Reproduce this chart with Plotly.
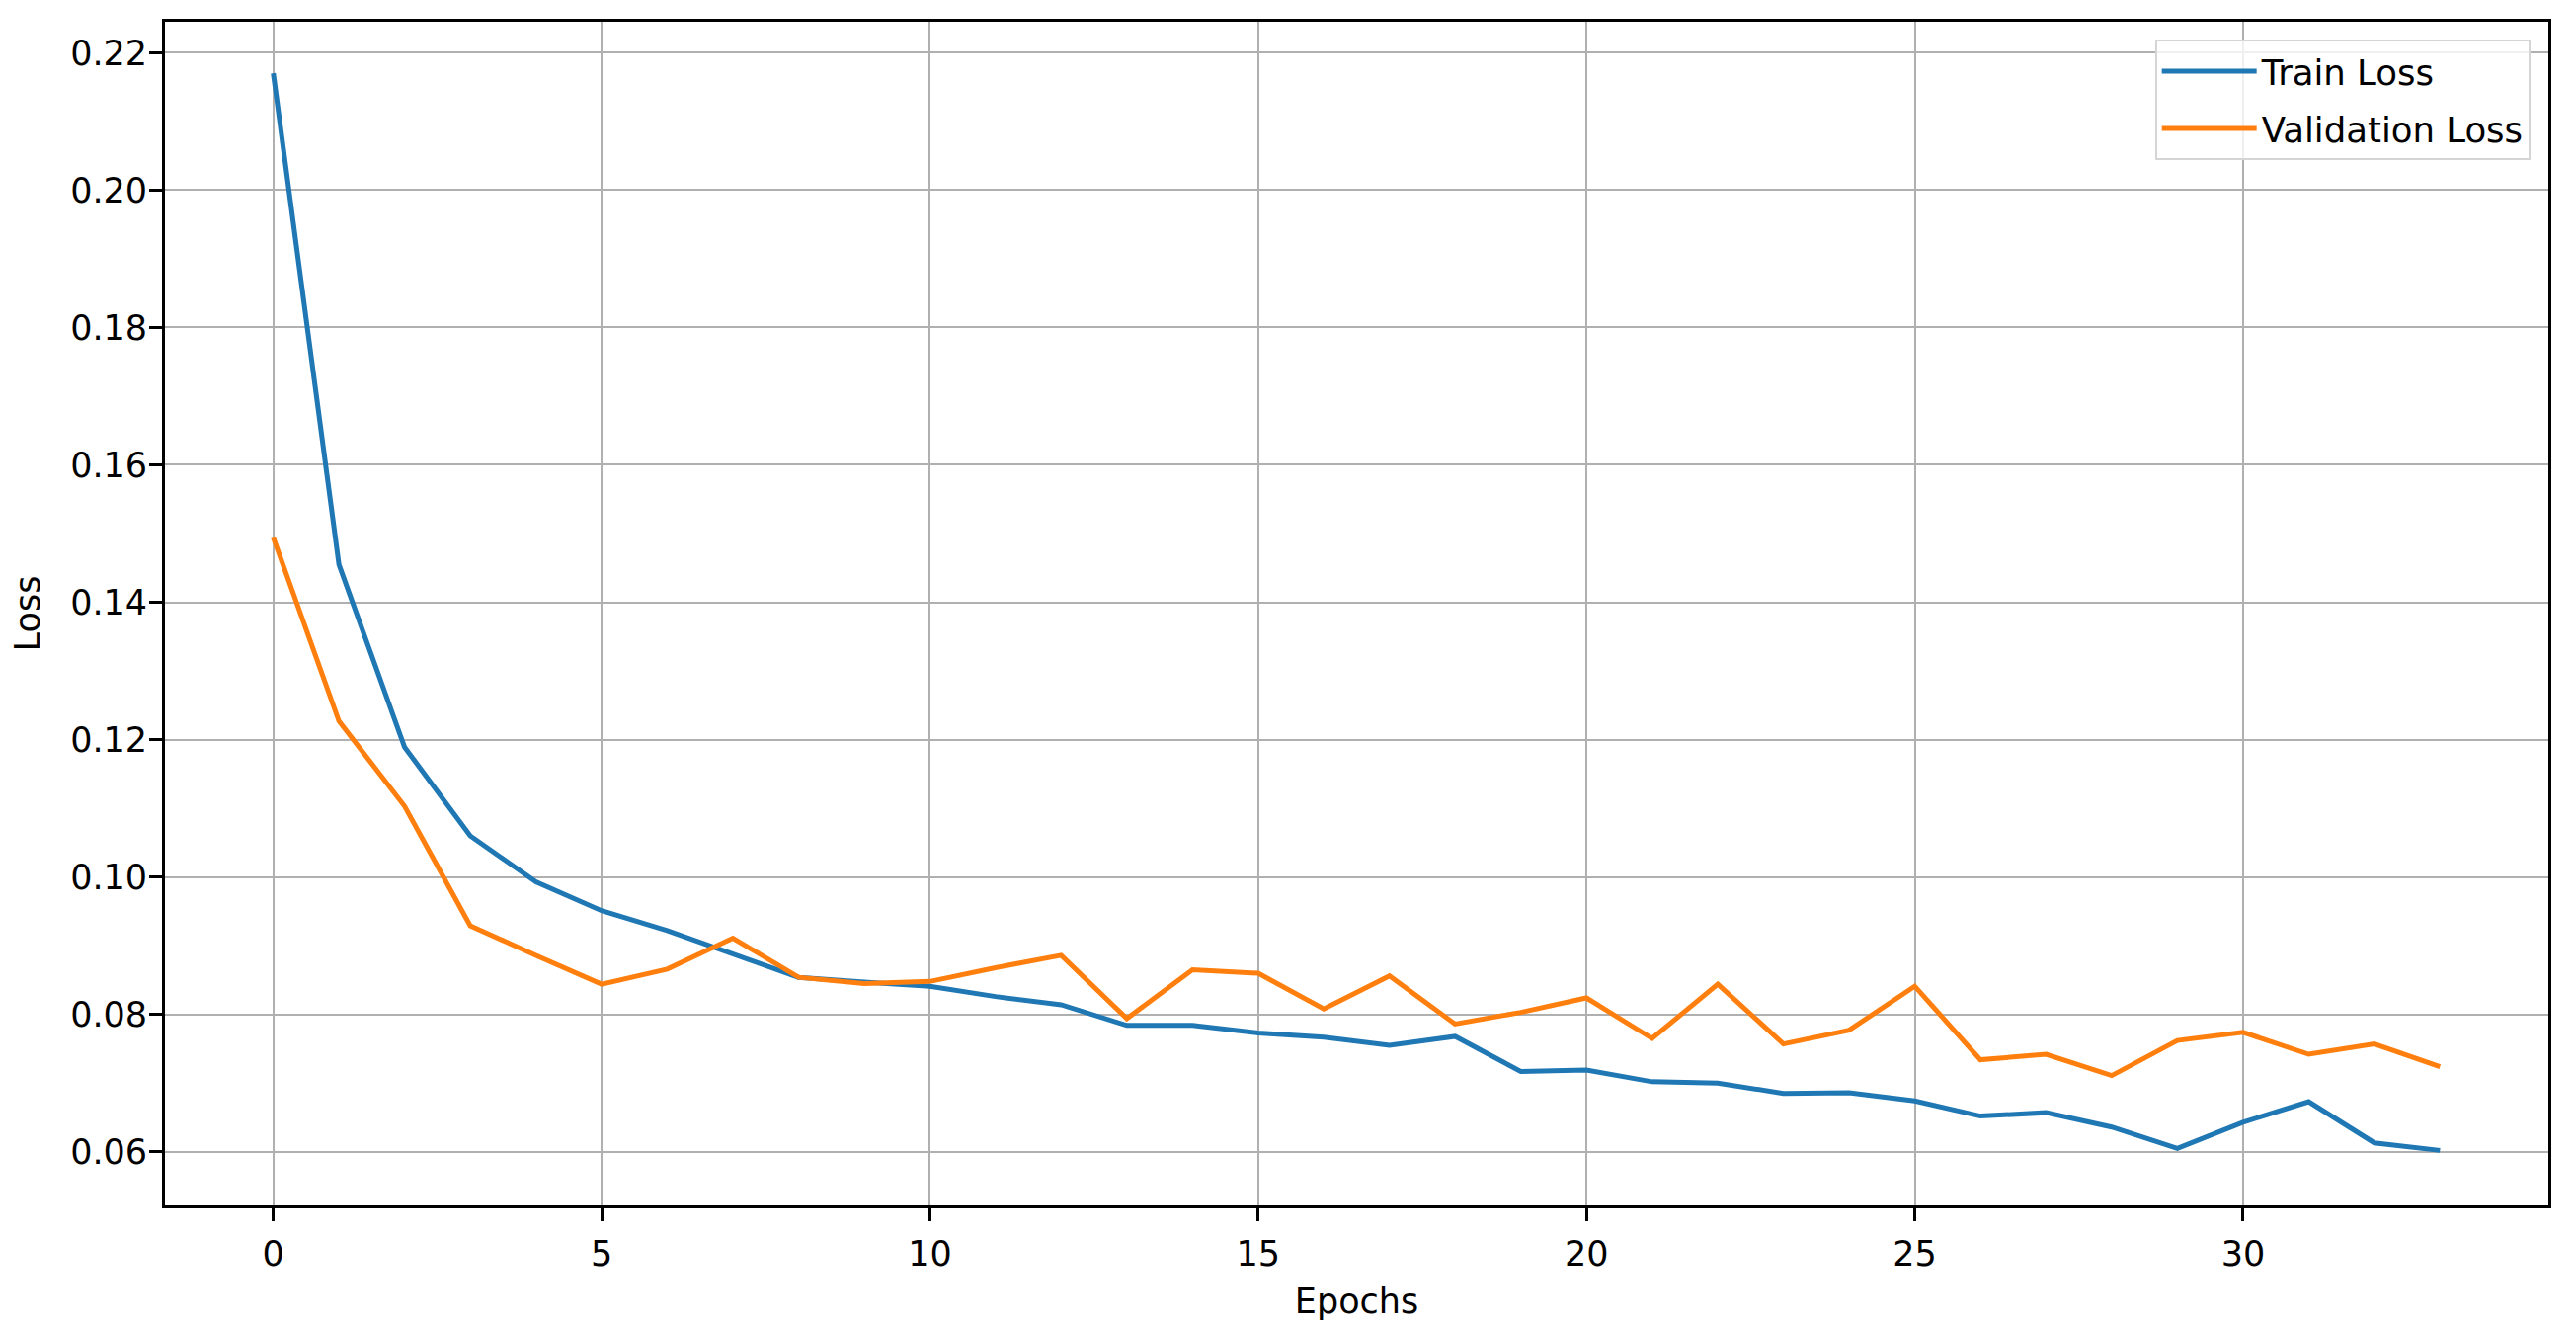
import plotly.graph_objects as go

epochs = list(range(34))
train_loss = [0.2170, 0.1455, 0.1189, 0.1060, 0.0993, 0.0951, 0.0922, 0.0888, 0.0854, 0.0847,
              0.0841, 0.0826, 0.0814, 0.0784, 0.0784, 0.0773, 0.0767, 0.0755, 0.0768, 0.0717,
              0.0719, 0.0702, 0.0700, 0.0685, 0.0686, 0.0674, 0.0652, 0.0657, 0.0636, 0.0605,
              0.0643, 0.0673, 0.0613, 0.0602]
val_loss = [0.1494, 0.1227, 0.1103, 0.0929, 0.0886, 0.0844, 0.0866, 0.0911, 0.0854, 0.0845,
            0.0848, 0.0868, 0.0886, 0.0794, 0.0865, 0.0860, 0.0808, 0.0856, 0.0786, 0.0803,
            0.0824, 0.0765, 0.0844, 0.0757, 0.0777, 0.0841, 0.0734, 0.0742, 0.0711, 0.0762,
            0.0774, 0.0742, 0.0757, 0.0724]
series_names = ["Train Loss", "Validation Loss"]
x_ticks = [0, 5, 10, 15, 20, 25, 30]
y_ticks = [0.06, 0.08, 0.10, 0.12, 0.14, 0.16, 0.18, 0.20, 0.22]

FONT = "DejaVu Sans"
FS = 35

fig = go.Figure()
fig.add_trace(go.Scatter(x=epochs, y=train_loss, mode="lines", name=series_names[0],
                         legendgroup="a", line=dict(color="#1f77b4", width=5)))
fig.add_trace(go.Scatter(x=epochs, y=val_loss, mode="lines", name=series_names[1],
                         legendgroup="b", line=dict(color="#ff7f0e", width=5)))

axis_common = dict(
    showline=True, linecolor="black", linewidth=2.7, mirror=True,
    ticks="outside", ticklen=13, tickwidth=2.7, tickcolor="black",
    showgrid=True, gridcolor="#b0b0b0", gridwidth=2.3, zeroline=False,
    tickfont=dict(family=FONT, size=FS, color="black"),
)

fig.update_xaxes(
    range=[-1.65, 34.65], tickmode="array", tickvals=x_ticks,
    ticklabelstandoff=3,
    title=dict(text="Epochs", font=dict(family=FONT, size=FS, color="black"), standoff=17),
    **axis_common,
)
fig.update_yaxes(
    range=[0.0522, 0.2245], tickmode="array", tickvals=y_ticks, tickformat=".2f",
    ticklabelstandoff=-5,
    title=dict(text="Loss", font=dict(family=FONT, size=FS, color="black"), standoff=23),
    **axis_common,
)

fig.update_layout(
    width=2608, height=1337,
    margin=dict(l=159, r=36, t=14, b=125),
    paper_bgcolor="white", plot_bgcolor="white",
    font=dict(family=FONT, size=FS, color="black"),
    showlegend=True,
    legend=dict(
        x=0.9924, y=0.9847, xanchor="right", yanchor="top",
        bgcolor="rgba(255,255,255,0.8)", bordercolor="#d5d5d5", borderwidth=2,
        font=dict(family=FONT, size=35.5, color="black"),
        itemwidth=96, tracegroupgap=9,
    ),
)

fig.write_html("out.html")
